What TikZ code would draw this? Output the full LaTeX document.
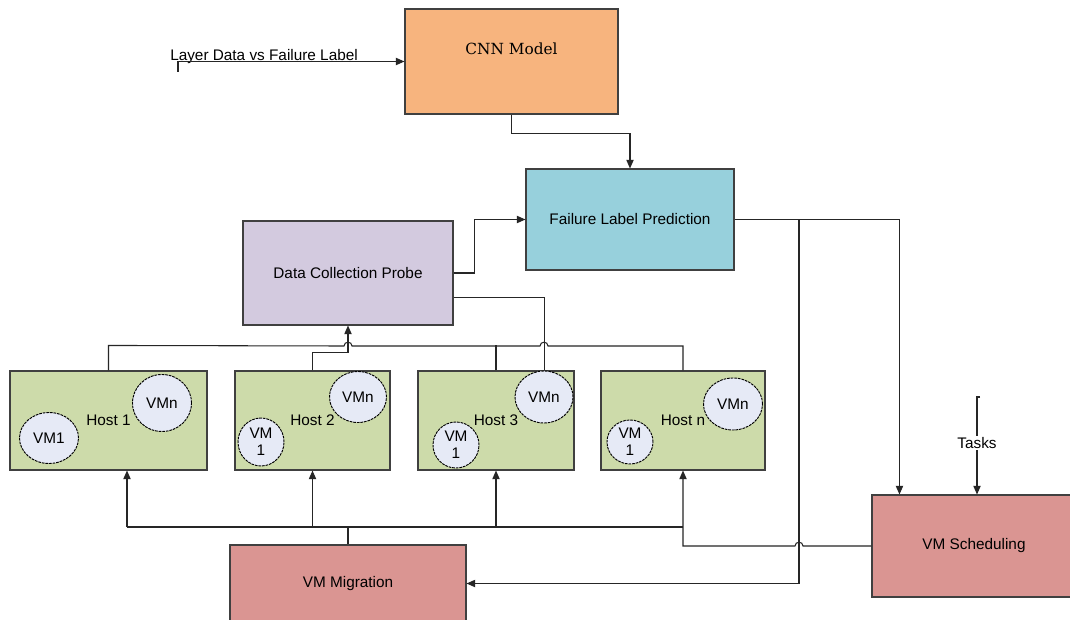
\documentclass[tikz,border=0pt]{standalone}
\usepackage{fontspec}
\setmainfont{Liberation Sans}
\newfontfamily\cnnfont{DejaVu Serif}
\usepackage{tikz}
\usetikzlibrary{arrows.meta,positioning,calc,shapes.geometric}
\definecolor{cnnorange}{RGB}{247,180,126}
\definecolor{predblue}{RGB}{151,208,220}
\definecolor{probelilac}{RGB}{211,202,223}
\definecolor{hostgreen}{RGB}{205,219,170}
\definecolor{vmrose}{RGB}{218,149,146}
\definecolor{vmblue}{RGB}{230,234,246}

\begin{document}
\begin{tikzpicture}
[x=0.75pt, y=-0.75pt,
font=\fontsize{11.5}{13}\selectfont,
wire/.style={draw=black!85, line width=0.8pt},
arr/.style={wire, -{Triangle[length=6.5pt,width=5.5pt]}},
blk/.style 2 args={draw=black!75, line width=0.8pt, rectangle, inner sep=0pt,
minimum width=#1*0.75pt, minimum height=#2*0.75pt},
vm/.style 2 args={ellipse, draw=black, line width=0.7pt,
dash pattern=on 2pt off 0.7pt, fill=vmblue, inner sep=0pt, align=center,
minimum width=#1*0.75pt, minimum height=#2*0.75pt}]
\useasboundingbox (0,0) rectangle (1070,620);
\clip (0,0) rectangle (1070,620);
\fill[white] (0,0) rectangle (1070,620);

\node (cnn) at (511.5,61.5) [blk={213}{105}, fill=cnnorange,
label={[font=\cnnfont\fontsize{11.5}{13}\selectfont, yshift=9.5pt]center:CNN Model}] {};
\node (flp) at (630,219.5) [blk={208}{101}, fill=predblue] {Failure Label Prediction};
\node (dcp) at (348,273) [blk={210}{104}, fill=probelilac] {Data Collection Probe};
\node (host1) at (108.5,420.5) [blk={197}{99}, fill=hostgreen] {Host 1};
\node (host2) at (312.5,420.5) [blk={155}{99}, fill=hostgreen] {Host 2};
\node (host3) at (496,420.5) [blk={156}{99}, fill=hostgreen] {Host 3};
\node (hostn) at (683,420.5) [blk={164}{99}, fill=hostgreen] {Host n};
\node (mig) at (348,583.5) [blk={236}{77}, fill=vmrose] {VM Migration};
\node (sched) at (974,546) [blk={204}{102}, fill=vmrose] {VM Scheduling};

\node (h1vm1) at (49,438) [vm={59}{51}] {VM1};
\node (h1vmn) at (162,403) [vm={59}{57}] {VMn};
\node (h2vm1) at (261,442) [vm={46}{48}] {VM\\1};
\node (h2vmn) at (358,397) [vm={57}{51}] {VMn};
\node (h3vm1) at (456,445) [vm={46}{46}] {VM\\1};
\node (h3vmn) at (544,397) [vm={58}{52}] {VMn};
\node (hnvm1) at (630,442) [vm={46}{44}] {VM\\1};
\node (hnvmn) at (733,404) [vm={59}{52}] {VMn};

% training input and model
\coordinate (ldin) at (178,72);
\node (ldtxt) at (170,60.5) [anchor=base west, inner sep=0pt] {Layer Data vs Failure Label};
\draw[arr] (ldin) |- (cnn.west);
\draw[arr] (cnn.south) -- ++(0,19) -| (flp.north);

% probe
\draw[arr] (dcp.east) -- ++(21,0) |- (flp.west);
\draw[wire] ($(dcp.south east)+(0,-28)$) -| ($(host3.north east)+(-30,0)$);

% hosts to probe
\draw[wire] (host1.north) -- ++(0,-25) -- (344,346) .. controls (344,341) and (352,341) .. (352,346)
 -- (540,346) .. controls (540,341) and (548,341) .. (548,346) -| (hostn.north);
\draw[wire] (host3.north) -- ++(0,-25);
\draw[arr] (host2.north) -- ++(0,-18) -| (dcp.south);

% migration
\coordinate (mbus) at (127,527);
\draw[wire] (mig.north) -- (mig.north |- mbus);
\draw[wire] (mbus) -- (mbus -| hostn.south);
\draw[arr] (mbus) -- (mbus |- host1.south);
\foreach \h in {host2,host3} \draw[arr] (mbus -| \h.south) -- (\h.south);

% scheduling
\coordinate (tap) at (799,0);
\draw[arr] (flp.east) -| ($(sched.north west)+(28,0)$);
\draw[arr] (tap |- flp.east) |- (mig.east);
\draw[arr] (sched.west) -- (803,546) .. controls (803,541) and (795,541) .. (795,546) -| (hostn.south);
\coordinate (tasks) at (977,397);
\draw[arr] ($(tasks)+(3,0)$) -- (tasks) -- (tasks |- sched.north)
 node [pos=0.47, fill=white, inner sep=1pt] {Tasks};

\end{tikzpicture}
\end{document}
